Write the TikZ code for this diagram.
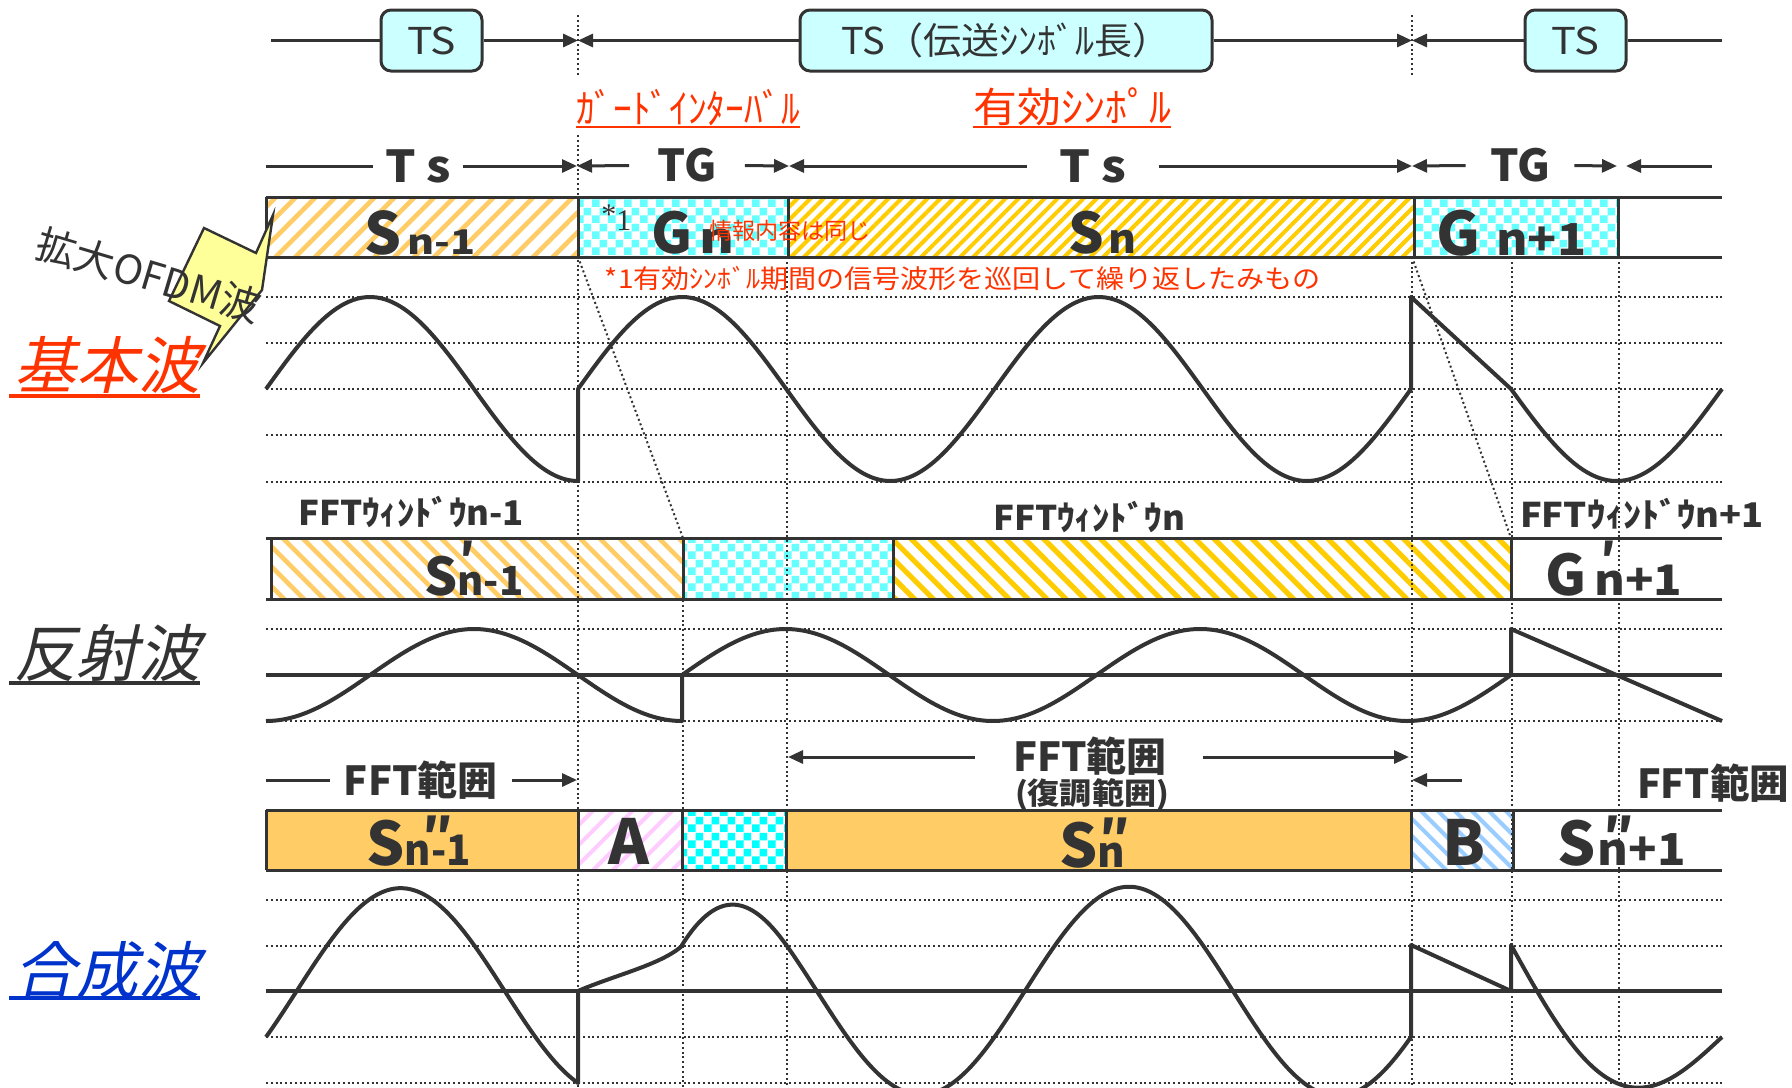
\documentclass[tikz,border=0pt]{standalone}
\usepackage{fontspec}
\usepackage{graphicx}
\setmainfont{Noto Sans CJK JP}
\newfontfamily\jpit[FakeSlant=0.22]{Noto Sans CJK JP}
\newfontfamily\sernum{Liberation Serif}
\usetikzlibrary{arrows.meta,patterns,patterns.meta}
\definecolor{ink}{HTML}{333333}
\definecolor{boxcyan}{HTML}{CCFFFF}
\definecolor{lorange}{HTML}{FFCC66}
\definecolor{gold}{HTML}{FFCC00}
\definecolor{chk}{HTML}{66FFFF}
\definecolor{chkb}{HTML}{00FFFF}
\definecolor{pinkh}{HTML}{FFCCFF}
\definecolor{blueh}{HTML}{99CCFF}
\definecolor{redtxt}{HTML}{FF3300}
\definecolor{bluetxt}{HTML}{0033CC}
\definecolor{calloutfill}{HTML}{FFFF99}
\newcommand\fs[1]{\fontsize{#1pt}{#1pt}\selectfont}
\newcommand\wfit[2]{\resizebox{#1}{\height}{#2}}
\newcommand\rprime[3]{\rlap{\hspace{#1}\raisebox{#2}{#3}}}
\pgfdeclarepatternformonly{bigcheck}{\pgfpointorigin}{\pgfqpoint{8pt}{8pt}}{\pgfqpoint{8pt}{8pt}}{%
  \pgfpathrectangle{\pgfpointorigin}{\pgfqpoint{4pt}{4pt}}%
  \pgfpathrectangle{\pgfqpoint{4pt}{4pt}}{\pgfqpoint{4pt}{4pt}}%
  \pgfusepath{fill}}
\tikzset{
  dimline/.style={draw=ink,line width=1.5pt},
  arrowend/.style={-{Triangle[length=7.5pt,width=6.5pt]}},
  vdots/.style={draw=ink,line width=1pt,dash pattern=on 1pt off 1.4pt},
  wave/.style={draw=ink,line width=2pt,line join=round},
  axisline/.style={draw=ink,line width=2pt},
  barline/.style={draw=ink,line width=1.5pt},
  tsbox/.style={draw=ink,line width=1.5pt,fill=boxcyan,rounded corners=5pt,minimum height=30.5pt,inner sep=0pt,text=ink,font=\fs{18.5}},
  dimlbl/.style={inner sep=6pt,text=ink,font=\bfseries\fs{22}},
  fftlbl/.style={inner sep=0pt,text=ink,font=\bfseries\fs{17}},
  rangelbl/.style={inner sep=7pt,text=ink,font=\bfseries\fs{20}},
  barlbl/.style={inner sep=0pt,text=ink,font=\bfseries,anchor=base west},
  redlbl/.style={text=redtxt,inner sep=0pt},
  sidelbl/.style={inner sep=0pt,anchor=base west,font=\jpit\fs{31}},
  hatchOr/.style={pattern={Lines[angle=45,distance=7pt,line width=2.3pt]},pattern color=lorange},
  hatchGold/.style={pattern={Lines[angle=45,distance=4.6pt,line width=2pt]},pattern color=gold},
  hatchOrB/.style={pattern={Lines[angle=-45,distance=7pt,line width=2.3pt]},pattern color=lorange},
  hatchGoldB/.style={pattern={Lines[angle=-45,distance=6.7pt,line width=2.6pt]},pattern color=gold},
  hatchPink/.style={pattern={Lines[angle=45,distance=7pt,line width=2pt]},pattern color=pinkh},
  hatchBlue/.style={pattern={Lines[angle=-45,distance=6pt,line width=2pt]},pattern color=blueh},
  checkA/.style={pattern=bigcheck,pattern color=chk},
  checkB/.style={pattern=bigcheck,pattern color=chkb},
}
\begin{document}
\begin{tikzpicture}[x=0.5pt,y=-0.5pt]
\useasboundingbox (0,0) rectangle (1792,1087);
\fill[white] (0,0) rectangle (1792,1087);

% ---- bar fills
\path[hatchOr] (266,197) rectangle (578,257);
\path[checkA] (578,197) rectangle (788,257);
\path[hatchGold] (788,197) rectangle (1414,257);
\path[checkA] (1414,197) rectangle (1618,257);
\path[hatchOrB] (271,538) rectangle (683,599);
\path[checkA] (683,538) rectangle (893,599);
\path[hatchGoldB] (893,538) rectangle (1511,599);
\fill[lorange] (266,810) rectangle (578,870);
\path[hatchPink] (578,810) rectangle (682,870);
\path[checkB] (682,810) rectangle (786,870);
\fill[lorange] (786,810) rectangle (1411,870);
\path[hatchBlue] (1411,810) rectangle (1513,870);

% ---- grid
\foreach \yy in {297,343,389,435,482,629,721,900,946,1037,1083}
  \draw[vdots] (266,\yy) -- (1722,\yy);
\draw[axisline] (266,675) -- (1722,675);
\draw[axisline] (266,991) -- (1722,991);
\draw[vdots] (578,15) -- (578,77);
\draw[vdots] (1412,15) -- (1412,77);
\draw[vdots] (578,135) -- (578,1087);
\draw[vdots] (683,538) -- (683,1087);
\draw[vdots] (787,257) -- (787,1087);
\draw[vdots] (1412,257) -- (1412,1087);
\draw[vdots] (1512,257) -- (1512,1087);
\draw[vdots] (1619,257) -- (1619,1087);
\draw[vdots] (578,257) -- (683,538);
\draw[vdots] (1412,257) -- (1511,538);

% ---- waves
\draw[wave] plot[domain=266:578,samples=80,variable=\t] (\t,{389-92*sin((\t-266)/416*360)})
  -- (578,389)
  -- plot[domain=578:1411,samples=200,variable=\t] (\t,{389-92*sin((\t-578)/416.5*360)})
  -- (1411,297) -- (1511,389)
  -- plot[domain=1511:1722,samples=60,variable=\t] (\t,{389+92*sin((\t-1511)/422*360)});
\draw[wave] plot[domain=266:682,samples=100,variable=\t] (\t,{675-46*sin((\t-370)/416*360)})
  -- (682,675)
  -- plot[domain=682:1511,samples=200,variable=\t] (\t,{675-46*sin((\t-682)/414.5*360)})
  -- (1511,629) -- (1722,721);
\draw[wave] plot[domain=266:578,samples=100,variable=\t] (\t,{991-92*sin((\t-266)/416*360)-46*sin((\t-370)/416*360)})
  -- (578,991) .. controls (615,975) and (660,965) .. (682,946)
  -- plot[domain=682:1411,samples=250,variable=\t] (\t,{991-92*sin((\t-578)/416.5*360)-46*sin((\t-682)/414.5*360)+46*pow(max(0,1-(\t-682)/104),2)})
  -- (1411,945) -- (1511,991) -- (1511,945)
  -- plot[domain=1511:1722,samples=60,variable=\t] (\t,{991+92*sin((\t-1511)/422*360)-46+(\t-1511)/211*92});

% ---- bar borders
\draw[barline] (266,197) -- (1722,197) (266,257) -- (1722,257);
\draw[barline] (266,197) -- (266,257) (578,197) -- (578,257) (788,197) -- (788,257) (1414,197) -- (1414,257) (1618,197) -- (1618,257);
\draw[barline] (266,538) -- (1722,538) (266,599) -- (1722,599);
\draw[barline] (271,538) -- (271,599) (683,538) -- (683,599) (893,538) -- (893,599) (1511,538) -- (1511,599);
\draw[barline] (266,810) -- (1722,810) (266,870) -- (1722,870);
\draw[barline] (266,810) -- (266,870) (578,810) -- (578,870) (682,810) -- (682,870) (786,810) -- (786,870) (1411,810) -- (1411,870) (1513,810) -- (1513,870);

% ---- top row
\node[tsbox,minimum width=50.5pt] (ts1) at (431.5,40.5) {\wfit{24.5pt}{TS}};
\node[tsbox,minimum width=206pt] (ts2) at (1006,40.5) {\wfit{164.5pt}{TS（伝送ｼﾝﾎﾞﾙ長）}};
\node[tsbox,minimum width=50.5pt] (ts3) at (1575.5,40.5) {\wfit{24pt}{TS}};
\coordinate (tl0) at (271,40.5);
\coordinate (tb1) at (578,40.5);
\coordinate (tb5) at (1412,40.5);
\coordinate (tr) at (1722,40.5);
\draw[dimline] (tl0) -- (ts1);
\draw[dimline,arrowend] (ts1) -- (tb1);
\draw[dimline,arrowend] (ts2) -- (tb1);
\draw[dimline,arrowend] (ts2) -- (tb5);
\draw[dimline,arrowend] (ts3) -- (tb5);
\draw[dimline] (ts3) -- (tr);

% ---- red headings
\node[redlbl,font=\fs{20}] (gi) at (688,108) {\wfit{112pt}{ｶﾞｰﾄﾞｲﾝﾀｰﾊﾞﾙ}};
\draw[redtxt,line width=1.2pt] (576,127) -- (800,127);
\node[redlbl,font=\fs{20.5}] (ys) at (1072,107) {\wfit{99pt}{有効ｼﾝﾎﾟﾙ}};
\draw[redtxt,line width=1.2pt] (973,127) -- (1171,127);

% ---- Ts / TG row
\coordinate (d0) at (266,166);
\coordinate (d1) at (577,166);
\coordinate (d2) at (789,166);
\coordinate (d5) at (1412,166);
\coordinate (d6) at (1617,166);
\coordinate (d7) at (1626,166);
\coordinate (d8) at (1712,166);
\node[dimlbl] (tsa) at (418,166) {\wfit{33pt}{T s}};
\node[dimlbl,inner sep=14pt] (tga) at (687,165) {\wfit{29.5pt}{TG}};
\node[dimlbl,inner sep=16pt] (tsb) at (1093,166) {\wfit{33.5pt}{T s}};
\node[dimlbl,inner sep=12pt] (tgb) at (1520,165) {\wfit{30pt}{TG}};
\draw[dimline] (d0) -- (tsa);
\draw[dimline,arrowend] (tsa) -- (d1);
\draw[dimline,arrowend] (tga) -- (d1);
\draw[dimline,arrowend] (tga) -- (d2);
\draw[dimline,arrowend] (tsb) -- (d2);
\draw[dimline,arrowend] (tsb) -- (d5);
\draw[dimline,arrowend] (tgb) -- (d5);
\draw[dimline,arrowend] (tgb) -- (d6);
\draw[dimline,arrowend] (d8) -- (d7);

% ---- bar 1 labels
\node[barlbl] (s1) at (364,254) {\fs{29}S\hspace{3pt}\fs{17}\wfit{34pt}{n-1}};
\node[inner sep=0pt,anchor=base west,text=ink] (ast) at (601,230) {\sernum\fs{15}\raisebox{3pt}{*}1};
\node[barlbl] (gn) at (651,253) {\fs{28}G\hspace{3.5pt}\fs{21}\wfit{17.5pt}{n}};
\node[redlbl,font=\fs{11.5}] (same) at (790,231) {\wfit{81pt}{情報内容は同じ}};
\node[barlbl] (sn) at (1068,253) {\fs{28}S\hspace{2pt}\fs{20}\wfit{14pt}{n}};
\node[barlbl] (gn1) at (1436,255) {\fs{30}G\hspace{8pt}\fs{22}\wfit{45pt}{n+1}};
\node[redlbl,font=\fs{13}] (note) at (963,279) {\wfit{358pt}{*1有効ｼﾝﾎﾞﾙ期間の信号波形を巡回して繰り返したみもの}};

% ---- bar 2 labels
\node[fftlbl,anchor=base] (fw1) at (411,525) {\wfit{113pt}{FFTｳｨﾝﾄﾞｳn-1}};
\node[fftlbl,anchor=base] (fw2) at (1089,530) {\wfit{96pt}{FFTｳｨﾝﾄﾞｳn}};
\node[fftlbl,anchor=base] (fw3) at (1642,527) {\wfit{122pt}{FFTｳｨﾝﾄﾞｳn+1}};
\node[barlbl] (s2) at (424,595) {\fs{26}S\rprime{1pt}{10pt}{\fs{22}′}\fs{20}\wfit{33pt}{n-1}};
\node[barlbl] (g2) at (1545,595) {\fs{28}G\rprime{7pt}{10pt}{\fs{22}′}\hspace{4pt}\fs{21}\wfit{44pt}{n+1}};

% ---- bar 3 labels
\node[rangelbl] (fl) at (421,780) {\wfit{77pt}{FFT範囲}};
\coordinate (fl0) at (266,780);
\coordinate (fl1) at (577,780);
\draw[dimline] (fl0) -- (fl);
\draw[dimline,arrowend] (fl) -- (fl1);
\node[rangelbl,inner sep=0pt] (fc) at (1090,756) {\wfit{77pt}{FFT範囲}};
\coordinate (fc0) at (788,757);
\coordinate (fc1) at (1409,757);
\coordinate (fcl) at (975,757);
\coordinate (fcr) at (1203,757);
\draw[dimline,arrowend] (fcl) -- (fc0);
\draw[dimline,arrowend] (fcr) -- (fc1);
\node[inner sep=0pt,text=ink,font=\bfseries\fs{15}] (dem) at (1092,795) {\wfit{77pt}{(復調範囲)}};
\coordinate (fa1) at (1462,780);
\coordinate (fa0) at (1412,780);
\draw[dimline,arrowend] (fa1) -- (fa0);
\node[rangelbl,inner sep=0pt] (fr) at (1713,783) {\wfit{76pt}{FFT範囲}};
\node[barlbl] (s3) at (366,865) {\fs{30}S\rprime{9pt}{6pt}{\fs{24}″}\fs{21}\wfit{33pt}{n-1}};
\node[barlbl,anchor=base] (la) at (629,864) {\fs{31}A};
\node[barlbl] (s3n) at (1059,867) {\fs{30}S\rprime{1pt}{6pt}{\fs{24}″}\fs{21}n};
\node[barlbl,anchor=base] (lb) at (1464,865) {\fs{31}B};
\node[barlbl] (s3n1) at (1557,865) {\fs{30}S\rprime{4pt}{6pt}{\fs{24}″}\hspace{1pt}\fs{22}\wfit{44pt}{n+1}};

% ---- callout
\filldraw[fill=calloutfill,draw=ink,line width=1.2pt,line join=miter] (204,228) -- (256,253) -- (273,215) -- (262,290) -- (203,363) -- (220,326) -- (169,301) -- cycle;
\node[inner sep=0pt,text=ink,font=\fs{20},rotate=-16.6] (ofdm) at (149,275) {拡大OFDM波};

% ---- side labels
\node[sidelbl,text=redtxt] (kh) at (14,388) {基本波};
\draw[redtxt,line width=2pt] (9,396) -- (200,396);
\node[sidelbl,text=ink] (hs) at (14,676) {反射波};
\draw[ink,line width=2pt] (9,683) -- (200,683);
\node[sidelbl,text=bluetxt] (gs) at (14,993) {合成波};
\draw[bluetxt,line width=2pt] (9,998) -- (200,998);
\end{tikzpicture}
\end{document}
